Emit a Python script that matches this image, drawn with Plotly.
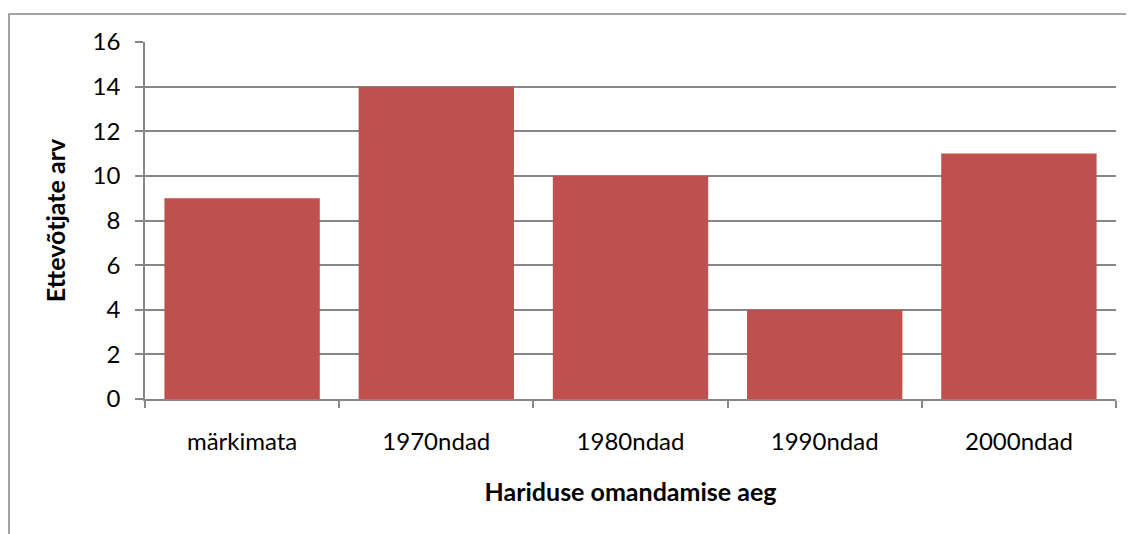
import plotly.graph_objects as go

categories = ["märkimata", "1970ndad", "1980ndad", "1990ndad", "2000ndad"]
values = [9, 14, 10, 4, 11]
y_ticks = [0, 2, 4, 6, 8, 10, 12, 14, 16]

FONT = "Lato, 'Open Sans', sans-serif"
GRAY = "#868686"

fig = go.Figure(go.Bar(x=categories, y=values, marker=dict(color="#C0504D", line=dict(width=0))))

# page body adds 8px margin; figure sized to fill the rest of the window
fig.update_layout(
    width=1126, height=526,
    margin=dict(l=137, r=18, t=34, b=135),
    paper_bgcolor="white", plot_bgcolor="white",
    bargap=0.2,
    showlegend=False,
    font=dict(family=FONT, size=24, color="black"),
    xaxis=dict(
        type="category",
        showline=True, linecolor=GRAY, linewidth=1.5,
        ticks="outside", tickson="boundaries", ticklen=7, tickcolor=GRAY, tickwidth=1.5,
        showgrid=False,
        ticklabelstandoff=20,
        tickfont=dict(family=FONT, size=24),
        title=dict(text="<b>Hariduse omandamise aeg</b>", font=dict(family=FONT, size=25), standoff=30),
    ),
    yaxis=dict(
        range=[0, 16], tickvals=y_ticks,
        showline=True, linecolor=GRAY, linewidth=1.5,
        ticks="outside", ticklen=8, tickcolor=GRAY, tickwidth=1.5,
        showgrid=True, gridcolor=GRAY, gridwidth=1.5,
        zeroline=False,
        ticklabelstandoff=10,
        tickfont=dict(family=FONT, size=24),
        title=dict(text="<b>Ettevõtjate arv</b>", font=dict(family=FONT, size=25), standoff=20),
    ),
)

# chart area border (extends beyond visible right/bottom edges)
fig.add_shape(type="rect", xref="paper", yref="paper",
              x0=-136/971, x1=1.2, y0=-0.5, y1=1 + 28/357,
              line=dict(color=GRAY, width=1.5), fillcolor="rgba(0,0,0,0)", layer="below")

fig.write_html("out.html")
